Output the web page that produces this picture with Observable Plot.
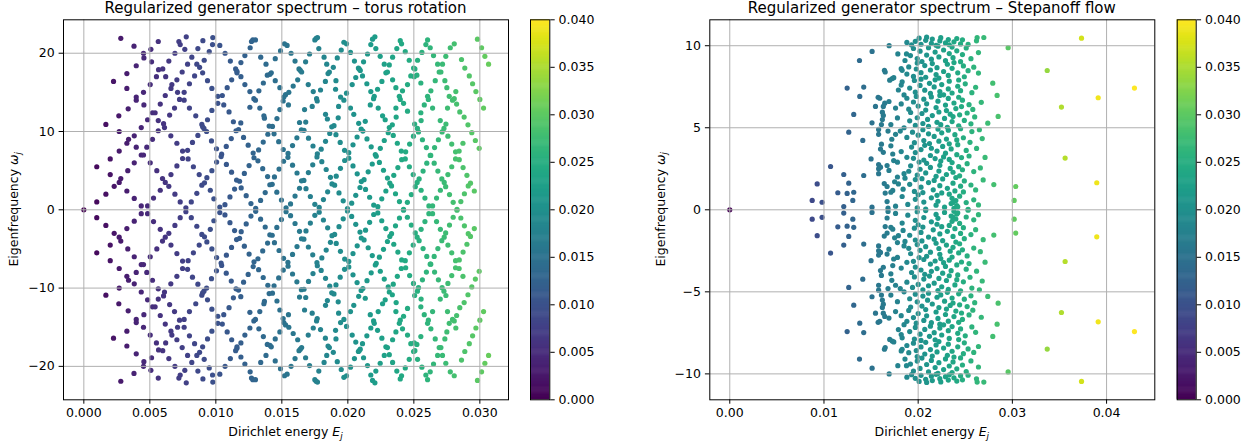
<!DOCTYPE html>
<html><head><meta charset="utf-8">
<script src="https://cdn.jsdelivr.net/npm/d3@7"></script>
<script src="https://cdn.jsdelivr.net/npm/@observablehq/plot@0.6"></script>
<style>
body{margin:0;background:#fff;}
#fig{position:relative;width:1257px;height:447px;overflow:hidden;background:#fff;}
#fig svg{position:absolute;top:0;}
</style></head><body><div id="fig"></div>
<script>
// ---- data: [Dirichlet energy E_j, eigenfrequency ω_j >= 0]; each eigenvalue also appears as its conjugate at −ω ----
const torusPoints = [
[0,0],[0.00098,1.0],[0.00098,5.5],[0.00167,2.0],[0.00167,10.9],[0.002,4.5],[0.002,6.5],[0.00225,16.4],[0.0023,3.0],[0.00265,12.0],[0.00268,3.5],[0.00268,7.5],[0.00268,10.0],[0.0028,4.0],[0.0028,21.9],[0.00326,2.4],[0.00326,8.5],[0.00326,15.5],[0.00326,17.4],[0.00333,5.0],[0.00336,12.9],[0.00339,9.0],[0.0038,20.9],[0.00382,1.45],[0.00382,6.0],[0.00382,9.45],[0.00397,8.0],[0.00397,14.0],[0.00397,14.4],[0.00397,18.4],[0.00435,0.5],[0.00435,7.0],[0.00435,10.5],[0.00452,7.0],[0.00452,15.0],[0.00452,20.0],[0.00455,13.4],[0.00455,19.4],[0.00477,8.0],[0.00483,0.5],[0.00483,11.5],[0.00503,6.0],[0.00503,16.0],[0.00508,20.5],[0.00513,18.9],[0.0052,9.0],[0.0052,12.4],[0.0054,12.4],[0.00528,1.5],[0.0055,17.0],[0.00553,5.0],[0.00564,10.1],[0.00564,11.4],[0.00564,21.5],[0.00566,17.9],[0.00579,2.5],[0.00579,13.5],[0.00596,4.0],[0.00598,18.0],[0.00604,11.0],[0.00611,10.5],[0.00617,3.5],[0.00617,14.6],[0.0062,17.0],[0.00644,3.0],[0.00644,19.0],[0.0065,12.1],[0.0066,4.5],[0.0066,15.5],[0.00659,9.45],[0.00667,16.0],[0.00687,13.0],[0.0069,2.0],[0.0069,20.0],[0.00705,5.6],[0.00705,8.5],[0.00705,16.6],[0.0071,15.0],[0.0072,21.5],[0.0073,21.1],[0.0073,1.0],[0.00725,14.1],[0.00745,17.6],[0.00748,6.55],[0.00748,7.5],[0.0076,14.0],[0.0076,15.0],[0.00765,20.5],[0.00773,0.25],[0.00776,22.1],[0.00786,7.6],[0.00786,18.6],[0.0079,6.5],[0.008,13.0],[0.008,16.1],[0.00814,1.0],[0.00818,19.5],[0.00823,8.6],[0.0083,5.5],[0.00839,17.1],[0.00848,12.0],[0.00856,2.1],[0.00856,18.6],[0.00864,9.5],[0.00864,20.6],[0.00874,4.5],[0.00877,18.2],[0.00894,3.15],[0.00894,10.9],[0.009,10.6],[0.009,17.5],[0.00902,21.6],[0.0091,10.4],[0.00912,19.1],[0.00914,3.45],[0.0093,10.0],[0.00932,4.1],[0.00937,11.5],[0.00937,16.5],[0.0095,20.2],[0.00958,2.5],[0.0097,5.0],[0.0097,12.7],[0.0097,15.5],[0.00975,21.1],[0.00977,22.0],[0.00985,1.4],
[0.0103,21.0],[0.0107,20.0],[0.0111,19.0],[0.0115,18.0],[0.0116,17.7],[0.0116,17.5],[0.0119,18.8],[0.0119,17.0],[0.0112,16.6],[0.0122,19.7],[0.0126,20.7],[0.0127,21.5],[0.0128,21.7],[0.013,21.7],[0.0134,19.5],[0.0138,18.6],[0.0142,17.5],[0.0141,17.3],[0.0139,17.2],[0.0145,19.3],[0.0145,16.5],[0.0136,16.2],[0.0122,16.0],[0.0149,20.3],[0.0152,21.2],[0.0154,21.0],[0.0157,20.0],[0.016,19.0],[0.0163,18.0],[0.0164,17.8],[0.0165,17.6],[0.0168,18.9],[0.0171,19.9],[0.0175,21.7],[0.0176,21.9],[0.0177,22.0],[0.0178,20.6],[0.0182,19.5],[0.0184,18.6],[0.0186,17.6],[0.0185,17.4],[0.0189,18.2],[0.0192,19.4],[0.0195,20.4],[0.0197,21.4],[0.0199,21.2],[0.0202,20.1],[0.0205,19.0],[0.0208,18.1],[0.0162,16.6],[0.017,16.0],[0.0183,16.4],[0.0191,16.5],[0.0206,16.9],
[0.01015,14.5],[0.01049,14.6],[0.0106,13.4],[0.01015,13.6],[0.011,12.5],[0.01086,15.6],[0.01258,15.1],[0.01288,14.2],[0.013,14.0],[0.01333,13.0],[0.01258,13.1],[0.01326,15.2],[0.01364,12.0],[0.01485,15.6],[0.01485,12.8],[0.01515,14.4],[0.01528,14.7],[0.01553,15.0],[0.0151,13.9],[0.0155,13.4],[0.01586,15.8],[0.01672,12.8],[0.01738,15.1],[0.01763,14.2],[0.01768,13.9],[0.0173,13.2],[0.01793,15.3],[0.01831,12.2],[0.01907,15.4],[0.01945,14.4],[0.0197,14.0],[0.0199,14.9],[0.0193,13.2],[0.02033,16.0],[0.0202,13.0],[0.02045,12.2],
[0.02205,22.1],[0.02187,21.8],[0.02174,21.1],[0.02212,20.6],[0.02149,19.9],[0.02119,18.9],[0.02086,18.0],[0.02094,17.8],[0.02111,17.1],[0.02245,19.6],[0.02276,18.6],[0.02314,18.5],[0.02288,17.5],[0.023,17.6],[0.02258,16.4],[0.02339,19.5],[0.02371,20.6],[0.02397,21.6],[0.02407,21.2],[0.02435,20.2],[0.02465,19.1],[0.02498,18.1],[0.02508,18.0],[0.02528,19.1],[0.02561,20.1],[0.02591,21.1],[0.02604,21.7],[0.02624,20.7],[0.02649,19.7],[0.0268,18.6],[0.02717,18.6],[0.02692,17.6],[0.02705,17.6],[0.02742,19.6],[0.02776,20.7],[0.02806,21.2],[0.02861,19.2],[0.02886,18.1],[0.0292,17.1],[0.02945,16.1],[0.0297,15.1],[0.03,14.1],[0.03028,13.0],[0.02982,21.8],[0.03013,20.7],[0.03038,19.6],[0.03066,18.6],[0.02735,16.5],[0.0275,15.6],[0.02768,14.5],[0.02793,14.0],[0.02806,14.2],[0.02818,15.1],[0.02824,13.5],[0.02848,12.5],[0.02755,13.0],[0.02662,16.5],[0.02629,15.2],[0.02604,14.5],[0.0261,14.1],[0.02579,13.4],[0.02642,13.0],[0.02553,16.2],[0.02523,17.2],[0.02503,17.0],[0.02477,17.1],[0.02452,16.0],[0.02414,15.2],[0.0239,14.5],[0.02397,14.1],[0.02422,13.6],[0.02452,12.6],[0.02364,13.0],[0.02339,16.6],[0.02364,15.6],[0.02225,15.4],[0.022,14.5],[0.02195,14.2],[0.0217,13.4],[0.0223,13.0],[0.02174,15.1],[0.02144,16.1],[0.02263,12.0],[0.02553,12.4],
[0.0103,0.35],[0.01006,6.1],[0.01044,7.1],[0.01079,8.1],[0.01117,9.1],[0.01153,10.1],[0.01189,11.1],[0.01069,0.65],[0.01107,1.65],[0.01142,2.65],[0.0118,3.65],[0.01192,2.8],[0.01157,3.8],[0.01119,4.8],[0.0108,5.8],[0.0104,6.8],[0.01005,7.8],[0.00967,8.8],[0.01133,11.25],[0.01172,10.25],
[0.01216,4.65],[0.01252,5.65],[0.01289,6.65],[0.01324,7.65],[0.01359,8.65],[0.01394,9.65],[0.01429,10.65],[0.01463,11.65],[0.01266,0.8],[0.0123,1.8],
[0.01302,0.2],[0.01339,1.2],[0.01374,2.2],[0.01409,3.2],[0.01444,4.2],[0.01479,5.2],[0.01513,6.2],[0.01547,7.2],[0.01581,8.2],[0.01614,9.2],[0.01648,10.2],[0.01681,11.2],
[0.01532,0.25],[0.01497,1.25],[0.01462,2.25],[0.01427,3.25],[0.01392,4.25],[0.01355,5.25],[0.01319,6.25],[0.01283,7.25],[0.01245,8.25],[0.0121,9.25],
[0.01566,0.75],[0.016,1.75],[0.01634,2.75],[0.01667,3.75],[0.01701,4.75],[0.01734,5.75],[0.01766,6.75],[0.01798,7.75],[0.01831,8.75],[0.01863,9.75],[0.01895,10.75],[0.01927,11.75],
[0.0175,0.7],[0.01716,1.7],[0.01683,2.7],[0.01649,3.7],[0.01615,4.7],[0.01581,5.7],[0.01546,6.7],[0.01511,7.7],[0.01476,8.7],[0.01441,9.7],[0.01404,10.7],[0.01368,11.7],
[0.01783,0.3],[0.01815,1.3],[0.01847,2.3],[0.0188,3.3],[0.01912,4.3],[0.01944,5.3],[0.01976,6.3],[0.02007,7.3],[0.02039,8.3],[0.0207,9.3],[0.02101,10.3],[0.02132,11.3],
[0.01997,0.15],[0.01965,1.15],[0.01933,2.15],[0.019,3.15],[0.01868,4.15],[0.01836,5.15],[0.01803,6.15],[0.01769,7.15],[0.01736,8.15],[0.01702,9.15],[0.01668,10.15],[0.01634,11.15],
[0.02029,0.85],[0.0206,1.85],[0.02092,2.85],[0.02123,3.85],[0.02154,4.85],[0.02185,5.85],[0.02215,6.85],[0.02246,7.85],[0.02276,8.85],[0.02306,9.85],[0.02337,10.85],[0.02366,11.85],
[0.02196,0.6],[0.02165,1.6],[0.02134,2.6],[0.02102,3.6],[0.02071,4.6],[0.02039,5.6],[0.02007,6.6],[0.01975,7.6],[0.01942,8.6],[0.0191,9.6],[0.01878,10.6],[0.01845,11.6],
[0.02227,0.4],[0.02257,1.4],[0.02288,2.4],[0.02318,3.4],[0.02348,4.4],[0.02379,5.4],[0.02408,6.4],[0.02438,7.4],[0.02468,8.4],[0.02497,9.4],[0.02527,10.4],[0.02555,11.4],
[0.02422,0.05],[0.02391,1.05],[0.02361,2.05],[0.02331,3.05],[0.023,4.05],[0.0227,5.05],[0.02239,6.05],[0.02208,7.05],[0.02177,8.05],[0.02145,9.05],[0.02114,10.05],[0.02082,11.05],
[0.02451,0.95],[0.02481,1.95],[0.02511,2.95],[0.0254,3.95],[0.0257,4.95],[0.02598,5.95],[0.02628,6.95],[0.02657,7.95],[0.02686,8.95],[0.02714,9.95],[0.02743,10.95],
[0.02614,0.5],[0.02584,1.5],[0.02555,2.5],[0.02525,3.5],[0.02495,4.5],[0.02466,5.5],[0.02435,6.5],[0.02405,7.5],[0.02375,8.5],[0.02344,9.5],[0.02314,10.5],[0.02283,11.5],
[0.02642,0.5],[0.02672,1.5],[0.02701,2.5],[0.0273,3.5],[0.02758,4.5],[0.02787,5.5],[0.02816,6.5],[0.02843,7.5],[0.02872,8.5],
[0.02798,0.95],[0.0277,1.95],[0.02741,2.95],[0.02712,3.95],[0.02682,4.95],[0.02654,5.95],[0.02624,6.95],[0.02595,7.95],[0.02565,8.95],[0.02535,9.95],[0.02506,10.95],
[0.02827,0.05],[0.02856,1.05],[0.02883,2.05],[0.02912,3.05],
[0.02958,2.4],[0.02929,3.4],[0.02902,4.4],[0.02873,5.4],[0.02844,6.4],[0.02816,7.4],[0.02787,8.4],[0.02758,9.4],[0.02728,10.4],[0.027,11.4],
[0.02995,7.85],[0.02966,8.85],[0.02939,9.85],[0.0291,10.85],[0.02881,11.85]
];
// sparse eigenvalues of the Stepanoff flow (outside the dense cluster)
const stepanoffSparse = [
[0,0],[0.00875,0.57],[0.0098,0.46],[0.00928,1.58],[0.0107,2.64],[0.01147,1.04],[0.0121,2.15],[0.01246,1.0],[0.01263,1.62],[0.01316,1.07],[0.01306,0.57],[0.0121,0.2],[0.01422,2.09],[0.01246,7.42],[0.0138,6.91],[0.01422,7.48],[0.01316,5.81],[0.01263,4.73],[0.01412,4.23],[0.01377,9.1],[0.01511,9.65],[0.01692,10.0],
[0.03734,10.46],[0.0337,8.49],[0.04296,7.42],[0.03911,6.83],[0.03521,6.26],[0.0356,3.15],[0.03896,1.65],[0.02955,9.88],[0.03036,1.42],[0.03019,0.57],[0.02838,6.97],[0.02792,7.72],[0.02849,5.69],[0.02803,1.54],[0.02697,10.5],[0.02626,10.5],[0.02619,10.3],[0.02739,5.28],
[0.0151,0.16],[0.015,3.1],[0.0158,2.5],[0.0151,5.3],[0.0161,5.2],[0.0162,5.5],[0.01575,6.86],[0.01592,6.8],[0.01547,6.3],[0.01645,6.5],[0.0162,5.95],[0.0163,5.75],[0.0163,6.3],[0.01642,8.5],[0.0165,8.4],[0.01698,7.9],[0.01724,8.0],[0.01741,8.05],[0.01784,9.5],[0.01876,9.5],[0.01918,9.4]
];
// dense cluster of the Stepanoff flow, by bands of ω
const stepanoffCluster = [
[0.0167,0.5],[0.0168,0.1],[0.0176,0.22],[0.0183,0.81],[0.0189,0.33],[0.0197,0.64],[0.0199,0.12],[0.02,0.91],[0.0206,0.47],[0.0208,0.05],[0.0214,0.73],[0.0219,0.28],[0.022,0.88],[0.0221,0.52],[0.0228,0.16],[0.0233,0.95],[0.0235,0.38],[0.0236,0.7],[0.0238,0.09],[0.024,0.56],[0.0241,0.26],[0.0244,0.83],[0.0251,0.44],[0.0253,0.02],[0.0259,0.61],[0.0264,0.3],[0.0237,0.45],[0.0242,0.18],
[0.0164,1.6],[0.0165,1.02],[0.0167,1.42],[0.0171,1.07],[0.0173,1.18],[0.0175,1.71],[0.0179,1.58],[0.0184,1.26],[0.0186,1.93],[0.0191,1.55],[0.0196,1.12],[0.0197,1.84],[0.0203,1.38],[0.0204,1.9],[0.0205,1.05],[0.0211,1.66],[0.0216,1.22],[0.0217,1.79],[0.0223,1.47],[0.0225,1.03],[0.0226,1.88],[0.0231,1.31],[0.0237,1.62],[0.0239,1.15],[0.024,1.97],[0.0245,1.44],[0.0248,1.09],[0.0249,1.76],[0.0256,1.51],[0.0261,1.21],[0.0269,1.82],
[0.0158,2.76],[0.0158,2.2],[0.016,2.6],[0.0167,2.7],[0.0169,2.4],[0.0178,2.9],[0.0178,2.0],[0.0185,2.2],[0.019,2.35],[0.0192,2.68],[0.0199,2.12],[0.0201,2.91],[0.0202,2.47],[0.0208,2.25],[0.0209,2.83],[0.0213,2.58],[0.0219,2.04],[0.0222,2.36],[0.0223,2.71],[0.0224,2.97],[0.023,2.15],[0.0234,2.52],[0.0236,2.88],[0.0237,2.29],[0.0243,2.63],[0.0244,2.07],[0.0247,2.44],[0.0252,2.81],[0.0259,2.33],[0.0266,2.55],
[0.016,3.7],[0.0163,3.5],[0.0171,3.9],[0.0173,3.4],[0.0174,3.0],[0.0182,3.55],[0.0188,3.2],[0.0193,3.82],[0.0195,3.14],[0.0197,3.49],[0.0203,3.67],[0.0206,3.03],[0.0207,3.93],[0.0213,3.31],[0.0214,3.75],[0.0218,3.12],[0.022,3.58],[0.0226,3.86],[0.0227,3.22],[0.0229,3.45],[0.0233,3.07],[0.0235,3.71],[0.0241,3.36],[0.0242,3.97],[0.0246,3.18],[0.0251,3.62],[0.0254,3.28],[0.0262,3.74],[0.0271,3.19],
[0.0161,4.0],[0.0158,4.6],[0.0158,4.9],[0.0168,4.8],[0.0176,4.6],[0.0181,4.8],[0.0172,4.3],[0.0188,4.41],[0.0194,4.73],[0.0196,4.09],[0.02,4.55],[0.0205,4.88],[0.0206,4.22],[0.0211,4.63],[0.0212,4.04],[0.0217,4.47],[0.0221,4.92],[0.0222,4.18],[0.0225,4.69],[0.023,4.31],[0.0232,4.85],[0.0233,4.02],[0.0239,4.58],[0.0241,4.26],[0.0245,4.94],[0.0248,4.39],[0.0255,4.11],[0.0257,4.77],[0.0265,4.88],[0.0268,4.34],
[0.0171,5.2],[0.0185,5.0],[0.0178,5.6],[0.0191,5.42],[0.0192,5.93],[0.0197,5.14],[0.0199,5.61],[0.0204,5.87],[0.0205,5.26],[0.021,5.51],[0.0211,5.08],[0.0215,5.74],[0.022,5.33],[0.0222,5.96],[0.0224,5.19],[0.0228,5.57],[0.0231,5.03],[0.0234,5.83],[0.0236,5.38],[0.0237,5.68],[0.0243,5.12],[0.0244,5.79],[0.0249,5.45],[0.0252,5.9],[0.0256,5.24],[0.026,5.66],
[0.0169,6.6],[0.0176,6.2],[0.0188,6.8],[0.0182,6.45],[0.019,6.13],[0.0195,6.57],[0.0198,6.91],[0.02,6.32],[0.0206,6.74],[0.0208,6.08],[0.0209,6.46],[0.0214,6.88],[0.0219,6.23],[0.0221,6.62],[0.0223,6.97],[0.0229,6.38],[0.023,6.05],[0.0232,6.79],[0.0238,6.51],[0.024,6.17],[0.0243,6.86],[0.0246,6.29],[0.0247,6.68],[0.0254,6.41],[0.0258,6.12],[0.0267,6.55],
[0.0182,7.6],[0.0183,7.8],[0.0185,7.0],[0.0179,7.3],[0.0191,7.42],[0.0196,7.88],[0.0197,7.17],[0.0202,7.58],[0.0203,7.96],[0.0207,7.29],[0.0212,7.71],[0.0213,7.09],[0.0217,7.49],[0.0218,7.92],[0.0223,7.21],[0.0225,7.63],[0.0227,7.01],[0.0232,7.37],[0.0233,7.84],[0.0236,7.12],[0.0242,7.53],[0.0243,7.91],[0.0245,7.26],[0.025,7.68],[0.0257,7.14],[0.0261,7.47],
[0.0182,8.6],[0.0183,8.5],[0.0188,8.27],[0.019,8.71],[0.0195,8.13],[0.0198,8.58],[0.0199,8.94],[0.0203,8.36],[0.0207,8.79],[0.0208,8.08],[0.0213,8.52],[0.0215,8.91],[0.0219,8.24],[0.022,8.66],[0.0222,8.03],[0.0227,8.43],[0.0231,8.87],[0.0232,8.19],[0.0236,8.62],[0.0238,8.97],[0.0242,8.35],[0.0248,8.77],[0.0249,8.11],[0.0253,8.48],[0.0259,8.69],[0.0264,8.33],
[0.0186,9.1],[0.0195,9.83],[0.0199,9.22],[0.0202,9.67],[0.0204,9.04],[0.0209,9.43],[0.0211,9.88],[0.0214,9.18],[0.0218,9.61],[0.0221,9.97],[0.0222,9.32],[0.0227,9.74],[0.0229,9.09],[0.0233,9.52],[0.0236,9.92],[0.0237,9.27],[0.0241,9.69],[0.0245,9.03],[0.0247,9.46],[0.0251,9.86],[0.0256,9.21],[0.0264,9.58],
[0.0188,10.2],[0.0193,10.05],[0.0197,10.27],[0.0201,10.46],[0.0203,10.09],[0.0208,10.33],[0.0209,10.52],[0.0214,10.14],[0.0215,10.41],[0.0219,10.03],[0.0223,10.29],[0.0224,10.49],[0.0229,10.17],[0.0232,10.38],[0.0233,10.06],[0.0238,10.24],[0.0241,10.44],[0.0245,10.11],[0.0247,10.36],[0.0253,10.08]
];
const torusXTicks = [0, 0.005, 0.01, 0.015, 0.02, 0.025, 0.03];
const torusYTicks = [-20, -10, 0, 10, 20];
const stepXTicks = [0, 0.01, 0.02, 0.03, 0.04];
const stepYTicks = [-10, -5, 0, 5, 10];
const colorbarTicks = [0, 0.005, 0.01, 0.015, 0.02, 0.025, 0.03, 0.035, 0.04];
const titles = ["Regularized generator spectrum – torus rotation", "Regularized generator spectrum – Stepanoff flow"];

// ---- drawing ----
const fig = document.getElementById("fig");
const H = 447, MT = 19.3, MB = 47.7;
const FONT = '"DejaVu Sans", "Liberation Sans", sans-serif';
const colorScale = {type: "linear", scheme: "viridis", domain: [0, 0.04]};
const minusFmt = d => (d < 0 ? "\u2212" : "") + Math.abs(d);
const style = {fontFamily: FONT, fontSize: "12.5px", color: "#000", background: "transparent", overflow: "visible"};

function withConjugates(points) {
  return points.flatMap(([E, w]) => w === 0 ? [{E, w}] : [{E, w}, {E, w: -w}]);
}
function place(svg, left) { svg.style.left = left + "px"; fig.appendChild(svg); }

function scatterPanel({points, xDomain, yDomain, xTicks, yTicks, xFormat, left, width, mL, mR}) {
  const data = withConjugates(points);
  const svg = Plot.plot({
    width, height: H, marginLeft: mL, marginRight: mR, marginTop: MT, marginBottom: MB,
    style, x: {domain: xDomain}, y: {domain: yDomain}, color: colorScale,
    marks: [
      Plot.dot(data, {x: "E", y: "w", fill: "E", r: 2.6}),
      Plot.gridX(xTicks, {stroke: "#b0b0b0", strokeOpacity: 1, strokeWidth: 1}),
      Plot.gridY(yTicks, {stroke: "#b0b0b0", strokeOpacity: 1, strokeWidth: 1}),
      Plot.frame({stroke: "#000", strokeWidth: 1}),
      Plot.axisX(xTicks, {tickFormat: xFormat, tickSize: 4.4, tickPadding: 4.4, label: null, strokeWidth: 1}),
      Plot.axisY(yTicks, {tickFormat: minusFmt, tickSize: 4.4, tickPadding: 4.4, label: null, strokeWidth: 1})
    ]
  });
  place(svg, left);
}

function colorbar({left, width, mL, mR}) {
  const step = 0.0001;
  const bands = d3.range(0, 0.04, step);
  const svg = Plot.plot({
    width, height: H, marginLeft: mL, marginRight: mR, marginTop: MT, marginBottom: MB,
    style, x: {domain: [0, 1], axis: null}, y: {domain: [0, 0.04]}, color: colorScale,
    marks: [
      Plot.rect(bands, {x1: 0, x2: 1, y1: d => d, y2: d => Math.min(0.04, d + step * 1.6), fill: d => d + step / 2}),
      Plot.frame({stroke: "#000", strokeWidth: 1}),
      Plot.axisY(colorbarTicks, {anchor: "right", tickFormat: d3.format(".3f"), tickSize: 4.4, tickPadding: 4.4, label: null, strokeWidth: 1})
    ]
  });
  place(svg, left);
}

scatterPanel({points: torusPoints, xDomain: [-0.00154, 0.03217], yDomain: [-24.27, 24.27],
  xTicks: torusXTicks, yTicks: torusYTicks, xFormat: d3.format(".3f"), left: 0, width: 520, mL: 63, mR: 12});
colorbar({left: 520, width: 100, mL: 10, mR: 70.7});
scatterPanel({points: stepanoffSparse.concat(stepanoffCluster), xDomain: [-0.00212, 0.04512], yDomain: [-11.58, 11.58],
  xTicks: stepXTicks, yTicks: stepYTicks, xFormat: d3.format(".2f"), left: 646, width: 520, mL: 63.3, mR: 11.7});
colorbar({left: 1166, width: 91, mL: 10.7, mR: 61.3});

// ---- titles and axis labels ----
const ov = d3.select(fig).append("svg").attr("width", 1257).attr("height", H)
  .style("left", "0px").style("pointer-events", "none")
  .attr("font-family", FONT).attr("fill", "#000");
const panels = [{cx: 285.5, ylx: 18.3}, {cx: 931.8, ylx: 664.6}];
panels.forEach((p, i) => {
  ov.append("text").attr("x", p.cx).attr("y", 12.5).attr("text-anchor", "middle").attr("font-size", 15).text(titles[i]);
  const xl = ov.append("text").attr("x", p.cx).attr("y", 436).attr("text-anchor", "middle").attr("font-size", 12.5);
  xl.append("tspan").text("Dirichlet energy ");
  xl.append("tspan").attr("font-style", "italic").text("E");
  xl.append("tspan").attr("font-style", "italic").attr("font-size", 8.8).attr("dy", 2.6).text("j");
  const yl = ov.append("text").attr("transform", `translate(${p.ylx},209.3) rotate(-90)`).attr("text-anchor", "middle").attr("font-size", 12.5);
  yl.append("tspan").text("Eigenfrequency ");
  yl.append("tspan").attr("font-style", "italic").text("\u03c9");
  yl.append("tspan").attr("font-style", "italic").attr("font-size", 8.8).attr("dy", 2.6).text("j");
});
</script></body></html>
